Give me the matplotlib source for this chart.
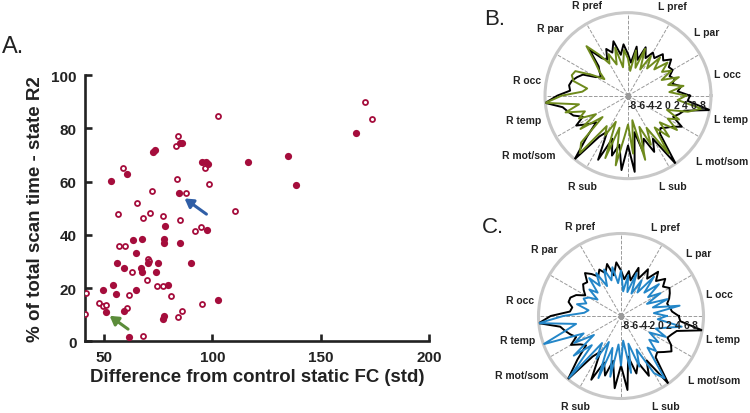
import numpy as np
import matplotlib.pyplot as plt

plt.rcParams['font.family'] = ['Liberation Sans', 'DejaVu Sans']

# ---- panel A data: (x = diff from control static FC, y = % of scan time) ----
filled_x = [53.3, 60.5, 72.5, 73.6, 78.1, 84.8, 86.1, 84.4, 95.0, 96.8, 98.1, 97.4,
            116.5, 135.1, 138.5, 166.2, 63.3, 67.6, 77.8, 77.6, 85.2, 64.5, 55.9,
            59.1, 67.2, 67.6, 70.2, 75.0, 74.1, 90.1, 53.9, 79.3, 49.4, 55.4, 64.9,
            102.4, 50.7, 59.0, 77.6, 77.2, 61.5]
filled_y = [60.2, 62.9, 71.1, 71.9, 43.4, 74.7, 74.4, 55.8, 67.4, 67.2, 66.8, 41.8,
            67.5, 69.8, 58.8, 78.2, 37.9, 38.4, 37.1, 38.3, 37.0, 33.3, 29.6,
            27.4, 27.4, 25.9, 29.4, 29.6, 26.1, 29.3, 21.2, 21.2, 19.4, 17.7, 19.2,
            15.5, 10.9, 11.5, 9.6, 8.3, 1.7]
open_x = [58.5, 56.4, 65.3, 67.9, 71.3, 72.2, 77.1, 84.2, 83.3, 83.8, 87.6, 85.2,
          102.5, 96.7, 98.2, 110.4, 91.8, 94.5, 56.8, 59.6, 62.7, 70.4, 70.9, 69.6,
          74.5, 77.3, 41.5, 61.6, 80.7, 95.3, 47.6, 49.4, 51.0, 41.1, 60.4, 83.9,
          85.9, 68.1, 170.5, 173.6]
open_y = [65.1, 48.0, 52.0, 46.5, 48.4, 56.5, 47.0, 77.2, 73.4, 61.0, 55.8, 45.5,
          84.5, 65.3, 59.1, 48.8, 41.3, 42.8, 35.8, 35.8, 25.9, 31.1, 30.1, 23.0,
          20.9, 20.9, 18.1, 17.4, 17.1, 14.0, 14.3, 13.4, 13.6, 10.1, 12.5, 9.0,
          11.4, 2.1, 89.8, 83.4]
# arrows: (tail, tip)
blue_arrow = [(97.2, 47.8), (87.1, 53.7)]
green_arrow = [(61.0, 4.6), (52.5, 9.6)]

# ---- panels B and C: radial values every 5 degrees, starting east, ccw ----
region_labels = ['R pref', 'L pref', 'R par', 'L par', 'R occ', 'L occ',
                 'R temp', 'L temp', 'R mot/som', 'L mot/som', 'R sub', 'L sub']
r_ticks = [-8, -6, -4, -2, 0, 2, 4, 6, 8]

b_black = [5.2, 2.4, 3.4, 1.5, 2.4, 1.5, 2.8, 2.4, 3.9, 2.4, 3.4, 1.5,
           2.4, 0.5, 2.8, -0.5, 2.4, -1.4, 0.5, 2.8, 0.5, 3.9, 1.5, 2.8,
           0.5, 1.5, 4.7, 0.5, -0.5, -1.4, -0.5, 2.4, 3.4, 4.3, 4.7, 4.3,
           7.2, 10.0, 6.2, 5.2, 4.3, 2.4, 4.7, 2.4, 0.5, 4.3, 10.0, 2.4,
           0.5, 7.2, 1.5, 5.2, 2.4, 8.1, 2.4, 8.5, -0.5, 4.3, 1.5, 5.2,
           2.4, 10.0, 2.4, 1.5, 2.4, 3.4, 5.2, 2.4, 3.4, 4.3, 10.0, 4.7]
b_green = [4.3, 0.5, 3.9, 0.5, 3.4, -0.5, 2.4, 0.5, 2.8, -0.5, 2.4, -1.4,
           1.5, -2.4, 2.4, -2.4, 1.5, -3.3, -0.5, 1.5, -2.4, 2.4, -1.4, 1.5,
           -0.5, 2.4, 5.8, 1.5, -0.5, -2.4, 0.5, 4.3, 4.7, 3.9, 0.5, 1.5,
           6.2, 10.0, 2.4, 5.8, 1.5, 3.4, -0.5, 4.3, -1.4, 6.2, 8.1, -0.5,
           1.5, -2.4, 6.2, -1.4, 7.2, 0.5, -2.4, 4.3, -3.3, 6.2, -1.4, 3.4,
           -0.5, 7.2, 0.5, 4.3, 0.5, 4.7, 1.5, 3.9, 0.5, 5.2, 8.1, 2.4]
c_black = [4.3, 2.8, 2.4, 2.0, 2.8, 3.4, 3.9, 2.8, 4.3, 2.4, 4.3, 1.5,
           3.4, 0.5, 2.8, -0.5, 1.5, -0.5, 1.5, 3.4, 0.5, 3.4, 1.5, 2.8,
           1.5, 2.8, 3.9, 2.0, 2.4, 1.5, 0.5, 2.4, 3.4, 3.5, 2.4, 2.8,
           7.2, 10.0, 5.2, 4.3, 3.4, 2.4, 4.3, 2.4, 1.5, 5.2, 10.0, 2.4,
           0.5, 7.2, 2.4, 5.2, 1.5, 7.7, 2.4, 8.1, 0.5, 4.7, 2.4, 6.2,
           2.8, 10.0, 3.4, 2.8, 3.9, 5.2, 4.3, 2.8, 3.4, 4.3, 10.0, 4.7]
c_blue = [1.5, -1.4, 4.7, -1.4, 2.4, -2.4, 1.5, -1.4, 2.4, -1.4, 2.8, -2.4,
          0.5, -3.3, 1.5, -3.3, 0.5, -3.3, 1.5, -1.4, 2.4, -0.5, 2.4, -1.4,
          2.4, -0.5, 2.4, -1.4, 0.5, -2.4, -0.5, 0.5, -0.5, 1.5, -1.4, -0.5,
          4.3, 10.0, 1.5, 4.3, 10.0, 0.5, 3.4, -1.4, 5.2, 0.5, 9.6, -1.4,
          2.4, -2.4, 6.2, -1.4, 5.2, -2.4, 2.4, -3.3, 4.3, -2.4, 3.4, -0.5,
          6.2, 8.5, 0.5, 2.4, -0.5, 1.5, -1.4, 2.4, -0.5, 1.5, 5.2, -0.5]

# label placement around the circle: angle (deg) and radius (x circle radius)
label_ang = [114.5, 63.4, 138.9, 38.9, 171, 12.3, 193, -12.8, 210.6, -34.7, 243.2, -63.7]
label_rad = [1.20, 1.205, 1.235, 1.217, 1.235, 1.224, 1.285, 1.27, 1.395, 1.373, 1.223, 1.217]

RED = '#a50d3c'
TXT = '#222222'

fig = plt.figure(figsize=(7.5, 4.14), dpi=100)

# ---------------- panel A ----------------
ax = fig.add_axes([0.113, 0.173, 0.459, 0.643])
ax.scatter(open_x, open_y, s=13, facecolors='white', edgecolors=RED, linewidths=1.3, zorder=3)
ax.scatter(filled_x, filled_y, s=27, color=RED, linewidths=0, zorder=4)
for arr, col in [(blue_arrow, '#2f5ea6'), (green_arrow, '#5b8c3a')]:
    ax.annotate('', xy=arr[1], xytext=arr[0],
                arrowprops=dict(arrowstyle='-|>,head_length=0.5,head_width=0.3',
                                color=col, lw=2.2, shrinkA=0, shrinkB=0), zorder=5)
ax.set_xlim(41, 200)
ax.set_ylim(0, 100)
ax.set_xticks([50, 100, 150, 200])
ax.set_yticks([0, 20, 40, 60, 80, 100])
for s in ['top', 'right']:
    ax.spines[s].set_visible(False)
for s in ['left', 'bottom']:
    ax.spines[s].set_linewidth(1.9)
    ax.spines[s].set_color(TXT)
ax.tick_params(direction='in', length=5, width=1.9, color=TXT, labelsize=11, pad=6)
for t in ax.get_xticklabels() + ax.get_yticklabels():
    t.set_fontweight('bold')
    t.set_color(TXT)
ax.set_xlabel('Difference from control static FC (std)', fontsize=13.4, fontweight='bold', color=TXT, labelpad=3)
ax.set_ylabel('% of total scan time - state R2', fontsize=13.5, fontweight='bold', color=TXT, labelpad=5)

fig.text(0.003, 0.871, 'A.', fontsize=17, color=TXT, va='baseline')
fig.text(0.645, 0.94, 'B.', fontsize=16, color=TXT, va='baseline')
fig.text(0.643, 0.437, 'C.', fontsize=16, color=TXT, va='baseline')


def radar(rect, ref_vals, grp_vals, grp_color):
    pax = fig.add_axes(rect, projection='polar')
    theta = np.deg2rad(np.arange(len(ref_vals)) * 360.0 / len(ref_vals))
    th = np.append(theta, theta[0])
    pax.plot(th, np.append(ref_vals, ref_vals[0]), color='black', lw=1.4, zorder=3)
    pax.plot(th, np.append(grp_vals, grp_vals[0]), color=grp_color, lw=1.4, zorder=4)
    pax.set_ylim(-9, 10)
    pax.set_yticks([])
    pax.set_thetagrids(np.arange(0, 360, 30), labels=[''] * 12)
    pax.xaxis.grid(True, color='#9a9a9a', linestyle='--', lw=0.7)
    pax.spines['polar'].set_color('#c8c8c8')
    pax.spines['polar'].set_linewidth(2.2)
    pax.plot(0, -9, 's', ms=3, color='#9a9a9a', zorder=5)
    for v in r_ticks:
        pax.annotate(str(v), xy=(0, v), xytext=(0, -3), textcoords='offset points',
                     ha='center', va='top', fontsize=7.5, fontweight='bold',
                     color=TXT, zorder=6)
    for lbl, a, rr in zip(region_labels, label_ang, label_rad):
        x = 0.5 + 0.5 * rr * np.cos(np.deg2rad(a))
        y = 0.5 + 0.5 * rr * np.sin(np.deg2rad(a))
        pax.text(x, y, lbl, transform=pax.transAxes, ha='center', va='center',
                 fontsize=7.5, fontweight='bold', color=TXT)
    return pax


radar([0.7267, 0.566, 0.2213, 0.401], b_black, b_green, '#6e8a1c')
radar([0.718, 0.035, 0.22, 0.3986], c_black, c_blue, '#2386c8')

fig.savefig('out.png', dpi=100)
